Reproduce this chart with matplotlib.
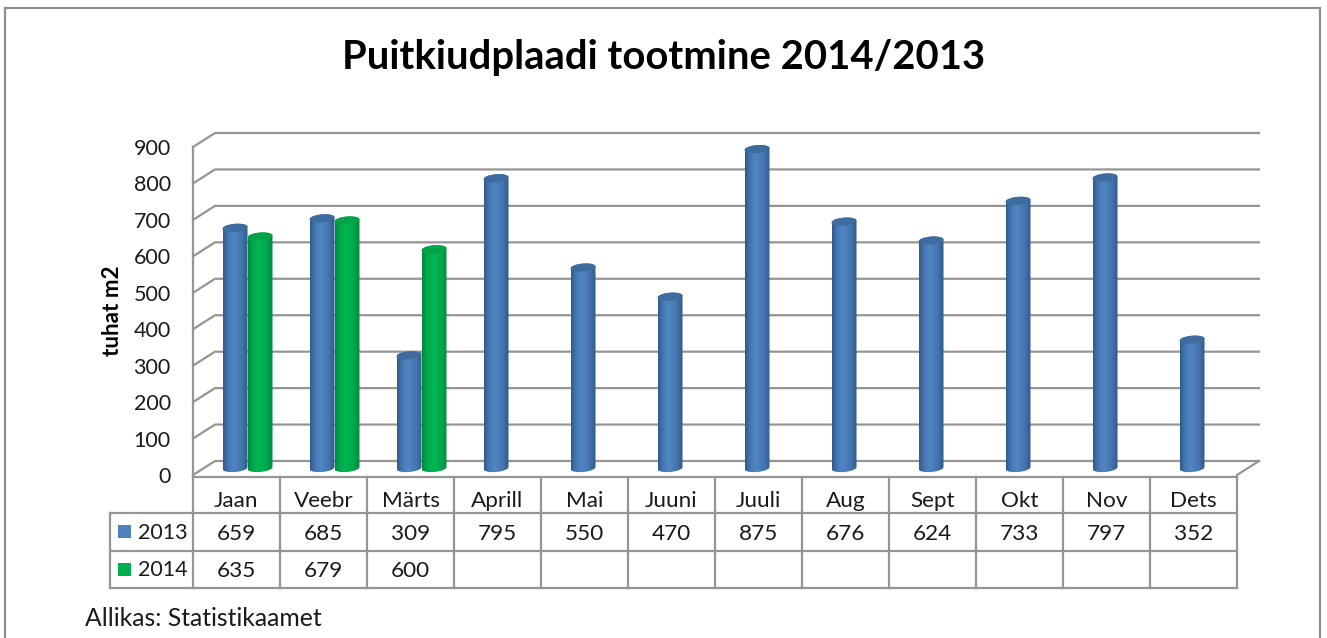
import numpy as np
import matplotlib
matplotlib.use("Agg")
import matplotlib.pyplot as plt
from matplotlib.colors import LinearSegmentedColormap
from matplotlib.patches import Polygon, Rectangle

categories = ["Jaan", "Veebr", "Märts", "Aprill", "Mai", "Juuni", "Juuli", "Aug", "Sept", "Okt", "Nov", "Dets"]
values_2013 = [659, 685, 309, 795, 550, 470, 875, 676, 624, 733, 797, 352]
values_2014 = [635, 679, 600]
y_ticks = [0, 100, 200, 300, 400, 500, 600, 700, 800, 900]

W, H = 1327, 638
GREY = "#959595"
TEXT = "#1a1a1a"
FONT = "Lato"
plt.rcParams["font.family"] = [FONT, "DejaVu Sans"]

fig = plt.figure(figsize=(W / 100, H / 100), dpi=100, facecolor="white")

# pixel overlay for frame, title and table
ov = fig.add_axes([0, 0, 1, 1], zorder=0)
ov.set_xlim(0, W)
ov.set_ylim(H, 0)
ov.axis("off")

# plot axes: front plane of the 3D box
L, R, T, B = 193, 1237, 147, 475
ax = fig.add_axes([L / W, 1 - B / H, (R - L) / W, (B - T) / H], zorder=1)
ax.patch.set_alpha(0)
ax.set_xlim(0, 12)
ax.set_ylim(0, 900)
for s in ["top", "right", "bottom"]:
    ax.spines[s].set_visible(False)
ax.spines["left"].set_color(GREY)
ax.spines["left"].set_linewidth(1.6)
ax.set_xticks([])
ax.set_yticks(y_ticks)
ax.tick_params(axis="y", length=0, pad=16, labelsize=15.5, labelcolor=TEXT)
ax.set_ylabel("tuhat m2", fontsize=16.2, fontweight="bold", color="black", va="center", ha="center")
ax.yaxis.set_label_coords((113 - L) / (R - L), 0.50)

px_x = 12 / (R - L)
px_y = 900 / (B - T)
dx, dy = 22 * px_x, 14 * px_y

# walls
for v in y_ticks:
    ax.plot([0, dx, 12 + dx], [v, v + dy, v + dy], color=GREY, lw=1.6, clip_on=False, zorder=1,
            solid_joinstyle="miter")
ax.plot([12, 12 + dx], [0, dy], color=GREY, lw=1.6, clip_on=False, zorder=1)


def gradient(dark, mid, light):
    return LinearSegmentedColormap.from_list("c", [(0, dark), (0.18, mid), (0.42, light), (0.75, mid), (1, dark)])


blue_cm = gradient("#2f5a8c", "#4575ae", "#5186c6")
green_cm = gradient("#008a3e", "#00a84b", "#00b655")
grad = np.linspace(0, 1, 64).reshape(1, -1)
bar_w = 25 * px_x
ry = 4.0 * px_y
tilt = 1.0 * px_y


def cylinder(cx, value, cmap, top_color, z):
    x0, x1 = cx - bar_w / 2, cx + bar_w / 2
    t = np.linspace(0, np.pi, 40)
    xs_low = cx - bar_w / 2 * np.cos(t)
    ys_low = dy / 2 - ry * np.sin(t) + tilt * np.cos(-t) * -1
    xs_up = cx + bar_w / 2 * np.cos(t)
    ys_up = value + dy / 2 + ry * np.sin(t) + tilt * np.cos(t)
    body = Polygon(np.column_stack([np.r_[xs_low, xs_up], np.r_[ys_low, ys_up]]),
                   closed=True, transform=ax.transData, facecolor="none", edgecolor="none")
    ax.add_patch(body)
    im = ax.imshow(grad, extent=(x0, x1, 0, value + dy), aspect="auto", cmap=cmap, zorder=z,
                   interpolation="bilinear")
    im.set_clip_path(body)
    im.set_clip_box(fig.bbox)
    t2 = np.linspace(0, 2 * np.pi, 60)
    ax.add_patch(Polygon(np.column_stack([cx + bar_w / 2 * np.cos(t2),
                                          value + dy / 2 + ry * np.sin(t2) + tilt * np.cos(t2)]),
                         closed=True, facecolor=top_color, edgecolor="none", zorder=z + 0.1,
                         clip_on=False))


for i, v in enumerate(values_2013):
    c = i + 0.5 + dx / 2 - bar_w / 2
    cylinder(c, v, blue_cm, "#3f6c9f", 3)
for i, v in enumerate(values_2014):
    c = i + 0.5 + dx / 2 + bar_w / 2
    cylinder(c, v, green_cm, "#00a347", 4)
ax.set_xlim(0, 12)
ax.set_ylim(0, 900)

# outer frame
ov.plot([5, 5], [H, 8], color="#8f8f8f", lw=1.6)
ov.plot([5, 1320], [8, 8], color="#8f8f8f", lw=1.6)
ov.plot([1320, 1320], [8, H], color="#8f8f8f", lw=1.6)

ov.text(664, 58, "Puitkiudplaadi tootmine 2014/2013", ha="center", va="center",
        fontsize=28.8, fontweight="bold", color="black")

# data table
rows_y = [477, 513, 551, 588]
col_w = (R - L) / len(categories)
col_x = [L + i * col_w for i in range(len(categories) + 1)]
for i, y in enumerate(rows_y):
    ov.plot([110 if i else L, R] if i else [L, R], [y, y], color=GREY, lw=1.6, solid_capstyle="projecting")
for x in col_x:
    ov.plot([x, x], [rows_y[0], rows_y[-1]], color=GREY, lw=1.6, solid_capstyle="projecting")
ov.plot([110, 110], [rows_y[1], rows_y[-1]], color=GREY, lw=1.6, solid_capstyle="projecting")

FS = 16.2
ycat, y13, y14 = 501, 534, 571
for i, c in enumerate(categories):
    xc = col_x[i] + col_w / 2
    ov.text(xc, ycat, c, ha="center", va="center", fontsize=FS, color=TEXT)
    ov.text(xc, y13, str(values_2013[i]), ha="center", va="center", fontsize=FS, color=TEXT)
    if i < len(values_2014):
        ov.text(xc, y14, str(values_2014[i]), ha="center", va="center", fontsize=FS, color=TEXT)

ov.add_patch(Rectangle((118, 525), 13, 13, facecolor="#4f81bd", edgecolor="none"))
ov.add_patch(Rectangle((118, 563), 13, 13, facecolor="#00b050", edgecolor="none"))
ov.text(138, y13 - 1, "2013", ha="left", va="center", fontsize=15.5, color=TEXT)
ov.text(138, y14 - 1, "2014", ha="left", va="center", fontsize=15.5, color=TEXT)

ov.text(85, 618, "Allikas: Statistikaamet", ha="left", va="center", fontsize=17.8, color=TEXT)

fig.savefig("out.png", dpi=100, facecolor="white")
